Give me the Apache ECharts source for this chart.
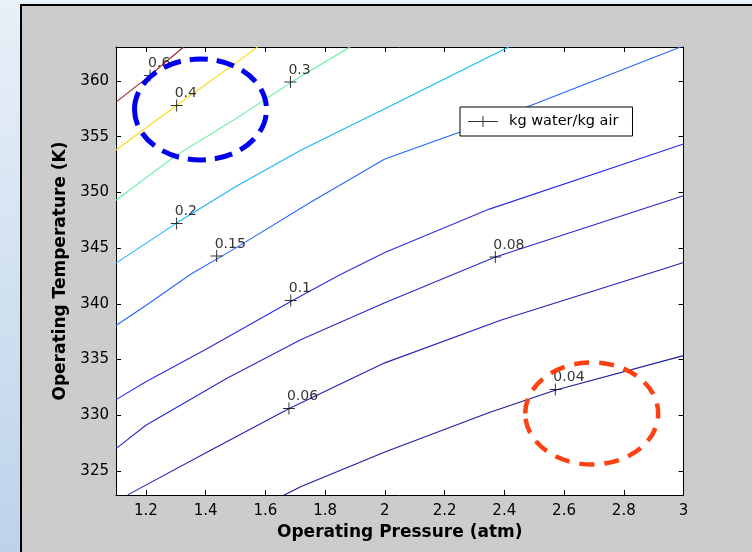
<!DOCTYPE html>
<html><head><meta charset="utf-8">
<script src="https://cdn.jsdelivr.net/npm/echarts@6/dist/echarts.min.js"></script>
<style>
html,body{margin:0;padding:0;width:752px;height:552px;overflow:hidden;background:linear-gradient(to bottom,#e8f0f8,#bdd3ea);}
#frame{position:absolute;left:20px;top:4px;width:800px;height:600px;background:#cccccc;border-left:2px solid #000;border-top:2px solid #000;}
#chart{position:absolute;left:0;top:0;width:752px;height:552px;}
</style></head><body><div id="frame"></div><div id="chart"></div>
<script>
// ---- data ----
const xTicks = [1.2, 1.4, 1.6, 1.8, 2, 2.2, 2.4, 2.6, 2.8, 3];
const yTicks = [325, 330, 335, 340, 345, 350, 355, 360];
const levels = ['0.04', '0.06', '0.08', '0.1', '0.15', '0.2', '0.3', '0.4', '0.6'];
const c004 = [[1.663,322.85],[1.72,323.6],[2.0,326.7],[2.35,330.25],[2.57,332.25],[3.0,335.35]];
const c006 = [[1.139,322.85],[1.42,326.9],[1.68,330.6],[2.0,334.7],[2.39,338.55],[2.94,343.2],[3.0,343.7]];
const c008 = [[1.1,327.0],[1.2,329.1],[1.47,333.3],[1.72,336.8],[2.0,340.1],[2.37,344.2],[3.0,349.7]];
const c010 = [[1.1,331.4],[1.2,333.0],[1.4,335.9],[1.685,340.2],[1.85,342.6],[2.0,344.6],[2.35,348.5],[3.0,354.35]];
const c015 = [[1.1,338.05],[1.2,339.85],[1.35,342.66],[1.5,345.0],[1.75,349.1],[2.0,353.0],[2.25,355.4],[2.48,357.7],[2.99,363.05]];
const c020 = [[1.1,343.65],[1.3,347.2],[1.5,350.5],[1.72,353.8],[2.0,357.5],[2.415,363.05]];
const c030 = [[1.1,349.3],[1.2,351.3],[1.3,353.3],[1.5,356.6],[1.7,360.1],[1.883,363.05]];
const c040 = [[1.1,353.8],[1.3,357.75],[1.5,361.6],[1.574,363.05]];
const c060 = [[1.1,358.1],[1.214,360.5],[1.326,363.05]];
const labelX = [1.214, 1.303, 1.684, 1.303, 1.437, 1.685, 2.37, 1.679, 2.571];
const labelY = [360.5, 357.8, 359.9, 347.2, 344.3, 340.3, 344.2, 330.6, 332.3];
const labelText = ['0.6', '0.4', '0.3', '0.2', '0.15', '0.1', '0.08', '0.06', '0.04'];
const legendName = 'kg water/kg air';
const xName = 'Operating Pressure (atm)';
const yName = 'Operating Temperature (K)';
// ---------------------------------------

const contours = [c004, c006, c008, c010, c015, c020, c030, c040, c060];
const levelColors = ['#1c1c9c','#2222b4','#2828cc','#2c2ce4','#2466ff','#1cb4ff','#58f098','#f8dc10','#a02020'];
const FONT = 'DejaVu Sans';
const X_MIN = 1.1, X_MAX = 3, Y_MIN = 322.84, Y_MAX = 363.05;
const plusPath = 'path://M0,11H24V13H0Z M11,0H13V24H11Z';
const legendIcon = 'path://M0,5H30V6H0Z M14.5,0H15.5V11H14.5Z';

const series = contours.map((d, i) => ({
  type: 'line', name: 'level ' + levels[i], data: d,
  symbol: 'none', showSymbol: false, silent: true,
  lineStyle: { color: levelColors[i], width: 1.1 }, z: 2
}));
series.push({
  type: 'scatter', name: legendName,
  data: labelX.map((x, i) => [x, labelY[i], labelText[i]]),
  symbol: plusPath, symbolSize: 12, itemStyle: { color: '#000' }, z: 5,
  label: { show: true, position: [4, 1], align: 'left', verticalAlign: 'bottom',
    formatter: p => p.value[2], color: '#000', fontFamily: FONT, fontSize: 14 }
});

const axisCommon = {
  type: 'value', splitLine: { show: false },
  axisLine: { show: true, onZero: false, lineStyle: { color: '#000', width: 1 } }
};

const option = {
  animation: false,
  grid: { left: 116, top: 47, width: 567.5, height: 448, show: true, backgroundColor: '#fff', borderWidth: 0 },
  legend: {
    data: [{ name: legendName, icon: legendIcon }],
    left: 460, top: 107, backgroundColor: '#fff', borderColor: '#000', borderWidth: 1, borderRadius: 0,
    padding: [7, 14, 7, 8], itemWidth: 30, itemHeight: 11, selectedMode: false,
    itemStyle: { color: '#000' },
    textStyle: { fontFamily: FONT, fontSize: 14.5, color: '#000', padding: [0, 0, 0, 6] }
  },
  xAxis: [
    Object.assign({}, axisCommon, {
      position: 'bottom', min: X_MIN, max: X_MAX,
      axisTick: { show: true, inside: true, length: 5, customValues: xTicks, lineStyle: { color: '#000' } },
      axisLabel: { customValues: xTicks, margin: 9, color: '#000', fontFamily: FONT, fontSize: 15 },
      name: xName, nameLocation: 'middle', nameGap: 25,
      nameTextStyle: { fontFamily: FONT, fontSize: 17, fontWeight: 'bold', color: '#000' }
    }),
    Object.assign({}, axisCommon, {
      position: 'top', min: X_MIN, max: X_MAX,
      axisTick: { show: true, inside: true, length: 5, customValues: xTicks, lineStyle: { color: '#000' } },
      axisLabel: { show: false }
    })
  ],
  yAxis: [
    Object.assign({}, axisCommon, {
      position: 'left', min: Y_MIN, max: Y_MAX,
      axisTick: { show: true, inside: true, length: 5, customValues: yTicks, lineStyle: { color: '#000' } },
      axisLabel: { customValues: yTicks, margin: 7, color: '#000', fontFamily: FONT, fontSize: 15 },
      name: yName, nameLocation: 'middle', nameGap: 43,
      nameTextStyle: { fontFamily: FONT, fontSize: 17, fontWeight: 'bold', color: '#000' }
    }),
    Object.assign({}, axisCommon, {
      position: 'right', min: Y_MIN, max: Y_MAX,
      axisTick: { show: true, inside: true, length: 5, customValues: yTicks, lineStyle: { color: '#000' } },
      axisLabel: { show: false }
    })
  ],
  graphic: [
    { type: 'ellipse', z: 100, shape: { cx: 200.5, cy: 109.5, rx: 66, ry: 50.5 },
      style: { fill: 'none', stroke: '#0000ee', lineWidth: 5, lineDash: [18, 9] } },
    { type: 'ellipse', z: 100, shape: { cx: 591.7, cy: 413.5, rx: 66.5, ry: 51 },
      style: { fill: 'none', stroke: '#ff4010', lineWidth: 4.5, lineDash: [15, 10] } }
  ],
  series: series
};
const chart = echarts.init(document.getElementById('chart'));
chart.setOption(option);
</script></body></html>
